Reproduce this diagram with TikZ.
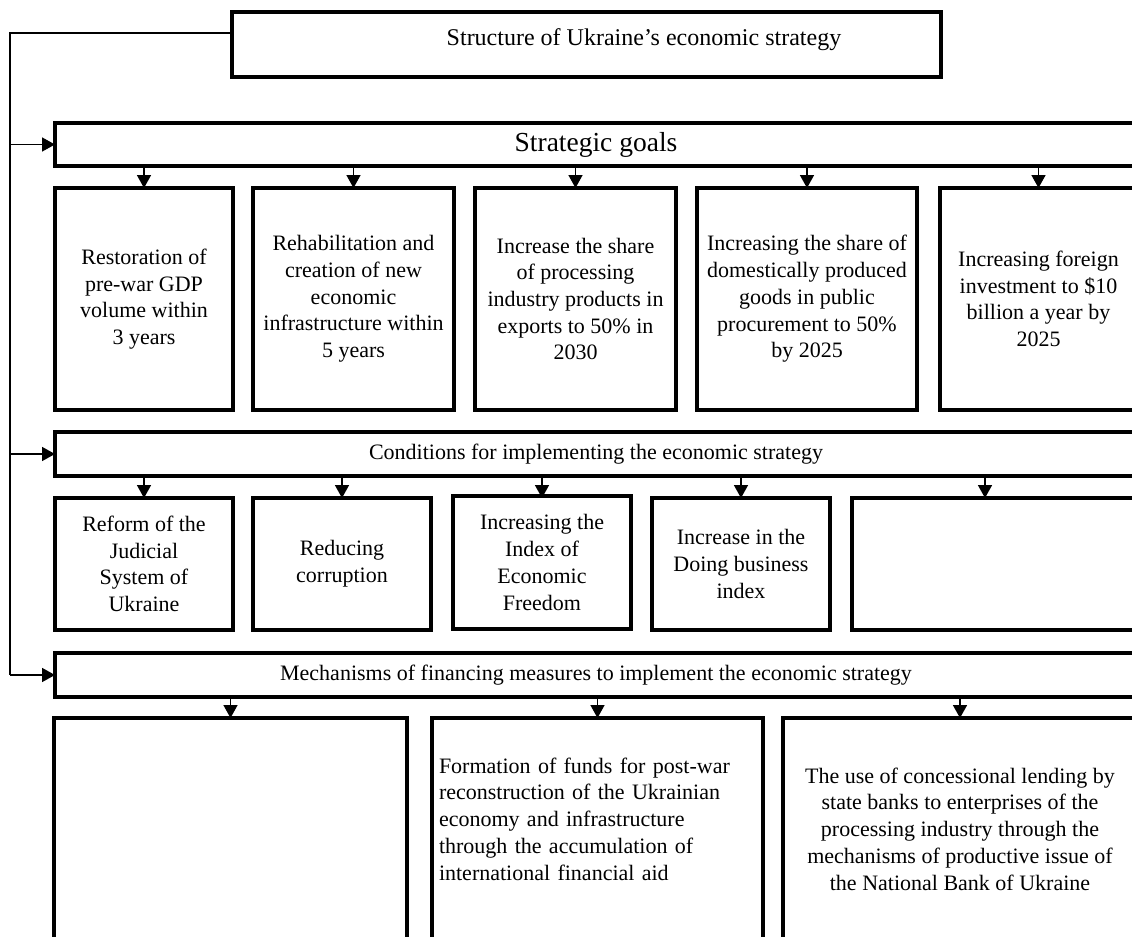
\documentclass[tikz,border=0pt]{standalone}
\usepackage{fontspec}
\setmainfont{Liberation Serif}
\usetikzlibrary{arrows.meta}

\tikzset{bb/.style={draw, line width=3.2bp, inner sep=0pt, outer sep=0pt, anchor=north west, align=center, font=\fontsize{22bp}{26.7bp}\selectfont}}
\tikzset{arr/.style={line width=1.6bp, -{Triangle[width=14bp,length=13bp]}}}

\begin{document}
\begin{tikzpicture}[x=1bp, y=-1bp]
    \useasboundingbox (0,0) rectangle (1132,937);
    \clip (0,0) rectangle (1132,937);

    \node[bb, minimum width=709bp, minimum height=65bp, text depth=15bp, font=\fontsize{24bp}{28bp}\selectfont] (top) at (232,12) {\hspace*{115bp}Structure of Ukraine's economic strategy};

    % strategic goals
    \node[bb, minimum width=1082bp, minimum height=43bp, font=\fontsize{27.5bp}{32bp}\selectfont] (goals) at (55,123) {Strategic goals};

    \node[bb, minimum width=178bp, minimum height=222bp] (g1) at (55,188) {Restoration of\\pre-war GDP\\volume within\\3 years};
    \node[bb, minimum width=201bp, minimum height=222bp] (g2) at (253,188) {Rehabilitation and\\creation of new\\economic\\infrastructure within\\5 years};
    \node[bb, minimum width=201bp, minimum height=222bp] (g3) at (475,188) {Increase the share\\of processing\\industry products in\\exports to 50\% in\\2030};
    \node[bb, minimum width=220bp, minimum height=222bp] (g4) at (697,188) {Increasing the share of\\domestically produced\\goods in public\\procurement to 50\%\\by 2025};
    \node[bb, minimum width=197bp, minimum height=222bp] (g5) at (940,188) {Increasing foreign\\investment to \$10\\billion a year by\\2025};

    % conditions
    \node[bb, minimum width=1082bp, minimum height=44bp] (conds) at (55,432) {Conditions for implementing the economic strategy};

    \node[bb, minimum width=178bp, minimum height=132bp] (c1) at (55,498) {Reform of the\\Judicial\\System of\\Ukraine};
    \node[bb, minimum width=178bp, minimum height=132bp] (c2) at (253,498) {Reducing\\corruption};
    \node[bb, minimum width=178bp, minimum height=133bp] (c3) at (453,496) {Increasing the\\Index of\\Economic\\Freedom};
    \node[bb, minimum width=178bp, minimum height=132bp] (c4) at (652,498) {Increase in the\\Doing business\\index};
    \node[bb, minimum width=285bp, minimum height=132bp] (c5) at (852,498) {};

    % financing mechanisms
    \node[bb, minimum width=1082bp, minimum height=44bp] (mech) at (55,653) {Mechanisms of financing measures to implement the economic strategy};

    \node[bb, minimum width=353bp, minimum height=222bp] (m1) at (54,718) {};
    \node[bb, minimum width=331bp, minimum height=222bp, text width=317bp, inner xsep=7bp, text depth=127bp, align=left] (m2) at (432,718) {Formation of funds for post-war\\reconstruction of the Ukrainian\\economy and infrastructure\\through the accumulation of\\international financial aid};
    \node[bb, minimum width=354bp, minimum height=222bp] (m3) at (783,718) {The use of concessional lending by\\state banks to enterprises of the\\processing industry through the\\mechanisms of productive issue of\\the National Bank of Ukraine};

    % left spine
    \coordinate (spine) at (10,33);
    \draw[line width=1.6bp] (top.west |- spine) -- (spine) -- (spine |- mech.west);
    \draw[arr] (spine |- goals.west) -- (goals.west);
    \draw[arr] (spine |- conds.west) -- (conds.west);
    \draw[arr] (spine |- mech.west) -- (mech.west);

    \foreach \g in {g1,g2,g3,g4,g5}
        \draw[arr] (goals.south -| \g.north) -- (\g.north);

    \coordinate (c5in) at ([xshift=133bp]c5.north west);
    \foreach \c in {c1,c2,c3,c4,c5in}
        \draw[arr] (conds.south -| \c) -- (\c |- c1.north);

    \foreach \m in {m1,m2,m3}
        \draw[arr] (mech.south -| \m.north) -- (\m.north);

\end{tikzpicture}
\end{document}
